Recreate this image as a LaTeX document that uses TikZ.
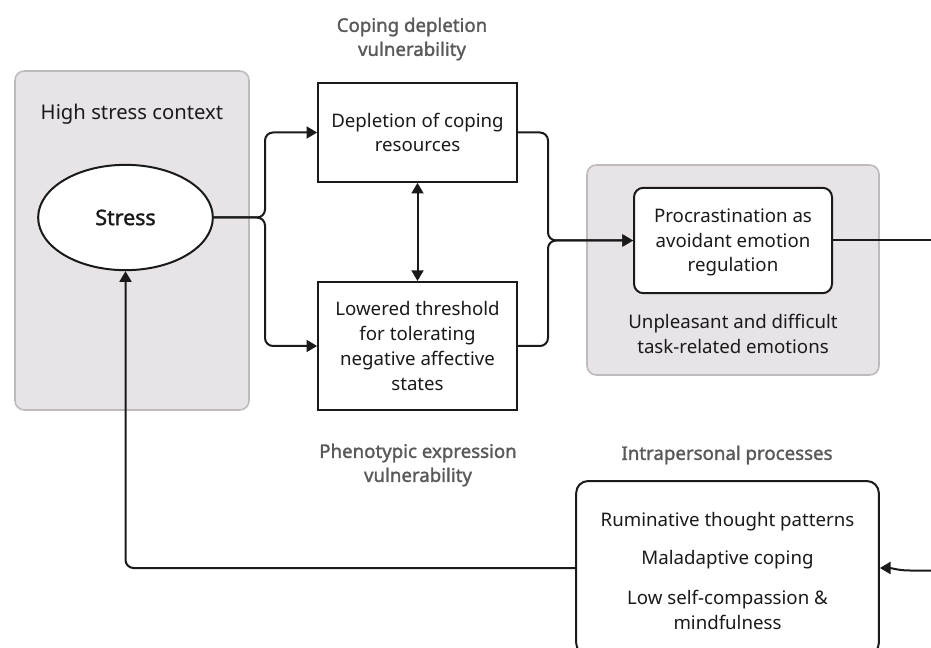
\documentclass[tikz,border=0pt]{standalone}
\usepackage{fontspec}
\setmainfont{Noto Sans}[AutoFakeBold=1.6]
\usepackage{xcolor}
\usepackage{tikz}
\usetikzlibrary{positioning,arrows.meta,shapes.geometric}
\definecolor{panelgrey}{HTML}{E7E3E7}
\definecolor{panelline}{HTML}{BEBABE}
\definecolor{headgrey}{HTML}{5A5A5A}
\definecolor{ink}{HTML}{1A1A1A}

\begin{document}
\begin{tikzpicture}[
  x=0.75pt,y=-0.75pt,
  font=\fontsize{14}{18.5}\selectfont,
  line width=1.5pt,
  panel/.style={draw=panelline,fill=panelgrey,line width=1.2pt,rounded corners=7pt},
  box/.style={draw=ink,fill=white,align=center,inner sep=0pt,text=ink},
  rbox/.style={box,rounded corners=7pt},
  head/.style={font=\fontsize{14}{18}\selectfont\bfseries,text=headgrey,align=center},
  note/.style={align=center,text=ink},
  arr/.style={-{Triangle[length=8pt,width=9pt]},draw=ink},
  dbl/.style={{Triangle[length=8pt,width=9pt]}-{Triangle[length=8pt,width=9pt]},draw=ink},
  link/.style={draw=ink,rounded corners=6pt}
]
\useasboundingbox (0,0) rectangle (931,648);
\clip (0,0) rectangle (931,648);

% ---- the two grey context panels ----
\draw[panel] (15,71) rectangle (249,410);
\draw[panel] (587,165) rectangle (879,375);

% ---- nodes ----
\node[note,font=\fontsize{15.2}{18}\selectfont] (ctx) at (132,114) {High stress context};
\node[box,ellipse,minimum width=131pt,minimum height=79pt,
      font=\fontsize{16}{18}\selectfont\bfseries] (stress) at (125.5,217.5) {Stress};
\node[head] (cophead) at (412,39) {Coping depletion\\vulnerability};
\node[box,minimum width=149pt,minimum height=74pt] (deplete) at (417.5,132.5)
  {Depletion of coping\\resources};
\node[box,minimum width=149pt,minimum height=96pt] (lowered) at (417.5,346)
  {Lowered threshold\\for tolerating\\negative affective\\states};
\node[head] (phenhead) at (418,465) {Phenotypic expression\\vulnerability};
\node[rbox,minimum width=148.5pt,minimum height=79pt] (procr) at (733,240.5) {};
\node[note] (procrtext) at (733,242.5) {Procrastination as\\avoidant emotion\\regulation};
\node[note] (emot) at (733,334) {Unpleasant and difficult\\task-related emotions};
\node[head] (intrahead) at (727,455) {Intrapersonal processes};
\node[rbox,rounded corners=9pt,minimum width=227pt,minimum height=130.5pt] (intra) at (727.5,568) {};
\node[note] (intratext) at (727.5,571)
  {Ruminative thought patterns\\[10pt]Maladaptive coping\\[11.5pt]Low self-compassion \&\\mindfulness};

% ---- connectors ----
\coordinate (split) at (265,217.5);
\coordinate (merge) at (548,240.5);
\coordinate (offright) at (950,240.5);
\coordinate (inright) at (950,570.5);
\draw[link,arr] (stress.east) -- (split) |- (deplete.west);
\draw[link,arr] (stress.east) -- (split) |- (lowered.west);
\draw[dbl] (deplete.south) -- (lowered.north);
\draw[link,arr] (deplete.east) -| (merge) -- (procr.west);
\draw[link,arr] (lowered.east) -| (merge) -- (procr.west);
\draw[link] (procr.east) -- (offright);
\draw[arr] (inright) -- ++(-40,0) to[out=180,in=0] (intra.east);
\draw[link,arr] (intra.west) -| (stress.south);
\end{tikzpicture}
\end{document}
